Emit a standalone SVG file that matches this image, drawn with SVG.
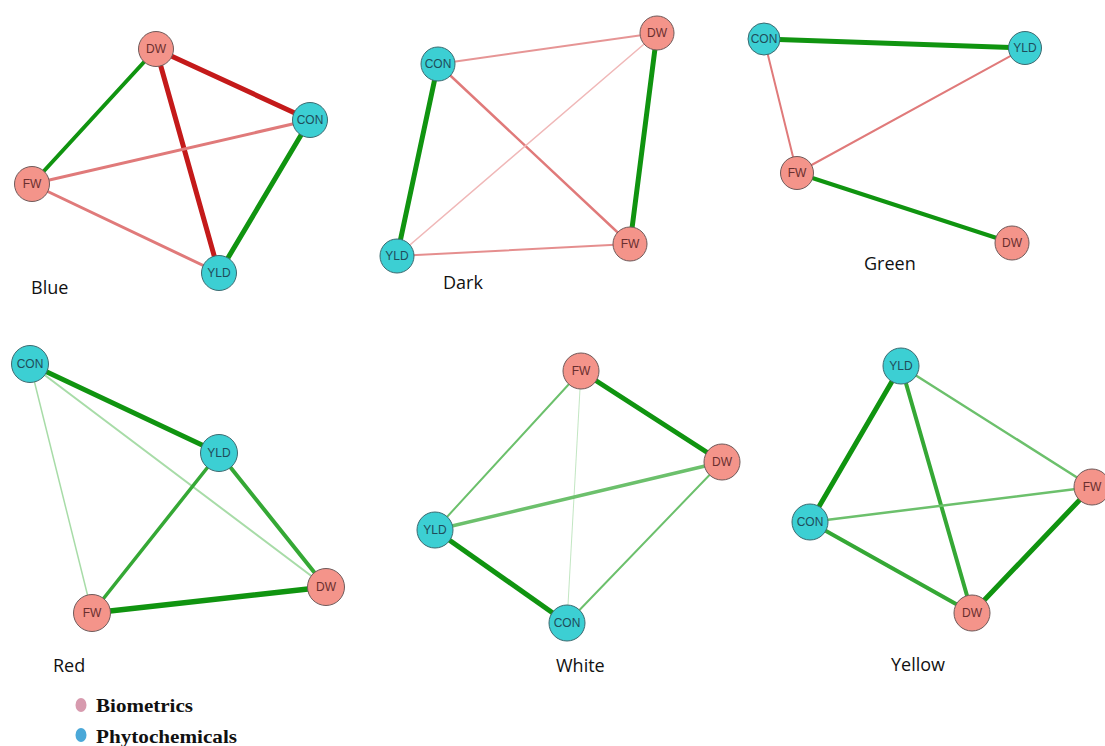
<svg xmlns="http://www.w3.org/2000/svg" width="1105" height="746" viewBox="0 0 1105 746">
<style>
.bg{fill:#ffffff}
.bio{fill:#f4948a;stroke:#6e5a5a;stroke-width:1}
.phy{fill:#3ccfd3;stroke:#3d6a70;stroke-width:1}
.nl{font-family:"Liberation Sans",Arial,sans-serif;font-size:12px;text-anchor:middle;dominant-baseline:central}
.bio-t{fill:#6a2f2f}
.phy-t{fill:#1f4d5a}
.title{font-family:"Open Sans","Liberation Sans",sans-serif;font-size:18px;fill:#111}
.leg{font-family:"Liberation Serif","Times New Roman",serif;font-size:19px;font-weight:bold;fill:#111}
line{stroke-linecap:round;fill:none}
.dr{stroke:#c41a1a}
.lr{stroke:#e07a7a}
.pr{stroke:#f0b8b8}
.dg{stroke:#109410}
.mg{stroke:#35a835}
.lg{stroke:#6cc06c}
.vg{stroke:#a8dca8}
</style>
<rect class="bg" x="0" y="0" width="1105" height="746"/>
<g id="connectors">
  <!-- Blue -->
  <line class="dg" x1="156" y1="49" x2="32" y2="184" stroke-width="4"/>
  <line class="dr" x1="156" y1="49" x2="310" y2="120" stroke-width="5"/>
  <line class="dr" x1="156" y1="49" x2="219" y2="273" stroke-width="5"/>
  <line class="dg" x1="310" y1="120" x2="219" y2="273" stroke-width="5"/>
  <line class="lr" x1="32" y1="184" x2="310" y2="120" stroke-width="3"/>
  <line class="lr" x1="32" y1="184" x2="219" y2="273" stroke-width="3"/>
  <!-- Dark -->
  <line class="lr" x1="438" y1="64" x2="657" y2="33" stroke-width="2" opacity="0.8"/>
  <line class="dg" x1="438" y1="64" x2="397" y2="256" stroke-width="5"/>
  <line class="dg" x1="657" y1="33" x2="630" y2="244" stroke-width="5"/>
  <line class="lr" x1="438" y1="64" x2="630" y2="244" stroke-width="2.5"/>
  <line class="pr" x1="397" y1="256" x2="657" y2="33" stroke-width="1.5"/>
  <line class="lr" x1="397" y1="256" x2="630" y2="244" stroke-width="2" opacity="0.85"/>
  <!-- Green -->
  <line class="dg" x1="764" y1="39" x2="1025" y2="48" stroke-width="5"/>
  <line class="lr" x1="764" y1="39" x2="797" y2="173" stroke-width="2"/>
  <line class="lr" x1="1025" y1="48" x2="797" y2="173" stroke-width="2"/>
  <line class="dg" x1="797" y1="173" x2="1012" y2="243" stroke-width="4"/>
  <!-- Red -->
  <line class="dg" x1="30" y1="364" x2="219" y2="453" stroke-width="5"/>
  <line class="vg" x1="30" y1="364" x2="92" y2="613" stroke-width="1.5"/>
  <line class="vg" x1="30" y1="364" x2="326" y2="587" stroke-width="2"/>
  <line class="mg" x1="219" y1="453" x2="92" y2="613" stroke-width="3.5"/>
  <line class="mg" x1="219" y1="453" x2="326" y2="587" stroke-width="4"/>
  <line class="dg" x1="92" y1="613" x2="326" y2="587" stroke-width="5.5"/>
  <!-- White -->
  <line class="dg" x1="581" y1="371" x2="722" y2="462" stroke-width="5"/>
  <line class="lg" x1="581" y1="371" x2="435" y2="530" stroke-width="2"/>
  <line class="vg" x1="581" y1="371" x2="567" y2="623" stroke-width="1" opacity="0.7"/>
  <line class="lg" x1="435" y1="530" x2="722" y2="462" stroke-width="3.5"/>
  <line class="dg" x1="435" y1="530" x2="567" y2="623" stroke-width="5"/>
  <line class="lg" x1="722" y1="462" x2="567" y2="623" stroke-width="2"/>
  <!-- Yellow -->
  <line class="dg" x1="901" y1="366" x2="810" y2="522" stroke-width="5"/>
  <line class="mg" x1="901" y1="366" x2="972" y2="613" stroke-width="4"/>
  <line class="lg" x1="901" y1="366" x2="1092" y2="487" stroke-width="2.5"/>
  <line class="lg" x1="810" y1="522" x2="1092" y2="487" stroke-width="2.5"/>
  <line class="mg" x1="810" y1="522" x2="972" y2="613" stroke-width="4"/>
  <line class="dg" x1="972" y1="613" x2="1092" y2="487" stroke-width="5"/>
</g>
<!-- Blue panel -->
<g id="blue-DW"><circle class="bio" cx="156" cy="49" r="17.5"/><text class="nl bio-t" x="156" y="49">DW</text></g>
<g id="blue-CON"><circle class="phy" cx="310" cy="120" r="17.5"/><text class="nl phy-t" x="310" y="120">CON</text></g>
<g id="blue-FW"><circle class="bio" cx="32" cy="184" r="17.5"/><text class="nl bio-t" x="32" y="184">FW</text></g>
<g id="blue-YLD"><circle class="phy" cx="219" cy="273" r="17.5"/><text class="nl phy-t" x="219" y="273">YLD</text></g>
<text id="label-blue" class="title" x="31" y="294">Blue</text>
<!-- Dark panel -->
<g id="dark-CON"><circle class="phy" cx="438" cy="64" r="17"/><text class="nl phy-t" x="438" y="64">CON</text></g>
<g id="dark-DW"><circle class="bio" cx="657" cy="33" r="17"/><text class="nl bio-t" x="657" y="33">DW</text></g>
<g id="dark-YLD"><circle class="phy" cx="397" cy="256" r="17"/><text class="nl phy-t" x="397" y="256">YLD</text></g>
<g id="dark-FW"><circle class="bio" cx="630" cy="244" r="17"/><text class="nl bio-t" x="630" y="244">FW</text></g>
<text id="label-dark" class="title" x="443" y="289">Dark</text>
<!-- Green panel -->
<g id="green-CON"><circle class="phy" cx="764" cy="39" r="16"/><text class="nl phy-t" x="764" y="39">CON</text></g>
<g id="green-YLD"><circle class="phy" cx="1025" cy="48" r="16.5"/><text class="nl phy-t" x="1025" y="48">YLD</text></g>
<g id="green-FW"><circle class="bio" cx="797" cy="173" r="16.5"/><text class="nl bio-t" x="797" y="173">FW</text></g>
<g id="green-DW"><circle class="bio" cx="1012" cy="243" r="17"/><text class="nl bio-t" x="1012" y="243">DW</text></g>
<text id="label-green" class="title" x="864" y="270">Green</text>
<!-- Red panel -->
<g id="red-CON"><circle class="phy" cx="30" cy="364" r="18.5"/><text class="nl phy-t" x="30" y="364">CON</text></g>
<g id="red-YLD"><circle class="phy" cx="219" cy="453" r="18.5"/><text class="nl phy-t" x="219" y="453">YLD</text></g>
<g id="red-DW"><circle class="bio" cx="326" cy="587" r="18.5"/><text class="nl bio-t" x="326" y="587">DW</text></g>
<g id="red-FW"><circle class="bio" cx="92" cy="613" r="18.5"/><text class="nl bio-t" x="92" y="613">FW</text></g>
<text id="label-red" class="title" x="53" y="672">Red</text>
<!-- White panel -->
<g id="white-FW"><circle class="bio" cx="581" cy="371" r="18"/><text class="nl bio-t" x="581" y="371">FW</text></g>
<g id="white-DW"><circle class="bio" cx="722" cy="462" r="18"/><text class="nl bio-t" x="722" y="462">DW</text></g>
<g id="white-YLD"><circle class="phy" cx="435" cy="530" r="18"/><text class="nl phy-t" x="435" y="530">YLD</text></g>
<g id="white-CON"><circle class="phy" cx="567" cy="623" r="18"/><text class="nl phy-t" x="567" y="623">CON</text></g>
<text id="label-white" class="title" x="556" y="672">White</text>
<!-- Yellow panel -->
<g id="yellow-YLD"><circle class="phy" cx="901" cy="366" r="18"/><text class="nl phy-t" x="901" y="366">YLD</text></g>
<g id="yellow-FW"><circle class="bio" cx="1092" cy="487" r="18"/><text class="nl bio-t" x="1092" y="487">FW</text></g>
<g id="yellow-CON"><circle class="phy" cx="810" cy="522" r="18"/><text class="nl phy-t" x="810" y="522">CON</text></g>
<g id="yellow-DW"><circle class="bio" cx="972" cy="613" r="18"/><text class="nl bio-t" x="972" y="613">DW</text></g>
<text id="label-yellow" class="title" x="891" y="671">Yellow</text>
<!-- Legend -->
<g id="legend">
  <ellipse cx="81" cy="705" rx="5.5" ry="7" fill="#d79aae"/>
  <text class="leg" x="96" y="712" textLength="97" lengthAdjust="spacingAndGlyphs">Biometrics</text>
  <ellipse cx="81" cy="735" rx="5.5" ry="7" fill="#4aa8d8"/>
  <text class="leg" x="96" y="743" textLength="141" lengthAdjust="spacingAndGlyphs">Phytochemicals</text>
</g>
</svg>
